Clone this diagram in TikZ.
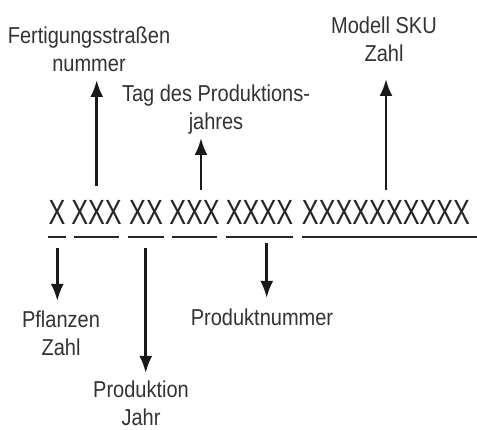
\documentclass[tikz,border=0pt]{standalone}
\usepackage{fontspec}
\setmainfont{Liberation Sans}[FakeStretch=0.72]
\newfontfamily\lblfont{Liberation Sans}[FakeStretch=0.87]
\usetikzlibrary{arrows.meta}
\begin{document}
\begin{tikzpicture}[x=1pt,y=-1pt,
  code/.style={inner sep=0pt,anchor=base,font=\fontsize{35}{40}\selectfont,text=black!85},
  lbl/.style={inner sep=0pt,align=center,font=\lblfont\fontsize{23}{28}\selectfont,text=black!80},
  uline/.style={line width=2.6pt,draw=black!85},
  arr/.style={line width=2.6pt,draw=black!90,-{Latex[length=17pt,width=13pt]}}]
\useasboundingbox[fill=white] (0,0) rectangle (477,430);
% code groups
\node[code] (g1) at (57,225) {X};
\node[code] (g2) at (96.5,225) {XXX};
\node[code] (g3) at (146,225) {XX};
\node[code] (g4) at (194.5,225) {XXX};
\node[code] (g5) at (259.5,225) {XXXX};
\node[code] (g6) at (386,225) {XXXXXXXXXX};
% underlines
\draw[uline] (48,237) -- (66,237);
\draw[uline] (74,237) -- (119,237);
\draw[uline] (128,237) -- (164,237);
\draw[uline] (172,237) -- (217,237);
\draw[uline] (226,237) -- (293,237);
\draw[uline] (302,237) -- (477,237);
% labels
\node[lbl] (fert) at (89,49) {Fertigungsstraßen\\nummer};
\node[lbl] (tag) at (216,110) {Tag des Produktions-\\jahres};
\node[lbl] (sku) at (384,39) {Modell SKU\\Zahl};
\node[lbl] (pfl) at (61,333) {Pflanzen\\Zahl};
\node[lbl] (pj) at (141,403) {Produktion\\Jahr};
\node[lbl] (pn) at (262,317) {Produktnummer};
% arrow ends
\coordinate (a1s) at (96.7,186); \coordinate (a1e) at (96.7,80);
\coordinate (a2s) at (201,190); \coordinate (a2e) at (201,138);
\coordinate (a3s) at (386,190); \coordinate (a3e) at (386,79);
\coordinate (a4s) at (57.3,248); \coordinate (a4e) at (57.3,301);
\coordinate (a5s) at (145.7,248); \coordinate (a5e) at (145.7,373);
\coordinate (a6s) at (266.7,243); \coordinate (a6e) at (266.7,298);
\draw[arr] (a1s) -- (a1e);
\draw[arr] (a2s) -- (a2e);
\draw[arr] (a3s) -- (a3e);
\draw[arr] (a4s) -- (a4e);
\draw[arr] (a5s) -- (a5e);
\draw[arr] (a6s) -- (a6e);
\end{tikzpicture}
\end{document}
